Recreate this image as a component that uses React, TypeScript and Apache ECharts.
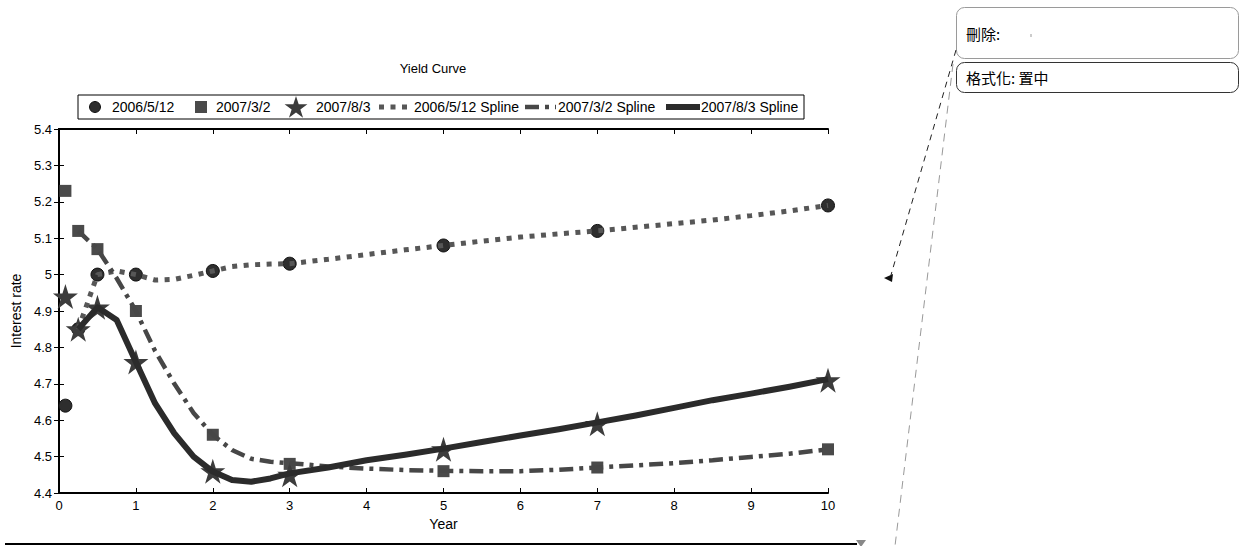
import React, { useEffect, useRef } from "react";
import * as echarts from "echarts";

// ---- data ----
const years = [1 / 12, 0.25, 0.5, 1, 2, 3, 5, 7, 10];
const rates20060512 = [4.64, 4.85, 5.0, 5.0, 5.01, 5.03, 5.08, 5.12, 5.19];
const rates20070302 = [5.23, 5.12, 5.07, 4.9, 4.56, 4.48, 4.46, 4.47, 4.52];
const rates20070803 = [4.94, 4.85, 4.91, 4.76, 4.46, 4.45, 4.52, 4.59, 4.71];

const splineYears = [0.25, 0.5, 0.75, 1, 1.25, 1.5, 1.75, 2, 2.25, 2.5, 2.75, 3, 3.5, 4, 4.5, 5, 5.5, 6, 6.5, 7, 7.5, 8, 8.5, 9, 9.5, 10];
const spline20060512 = [4.85, 5.0, 5.01, 5.0, 4.985, 4.987, 4.998, 5.01, 5.022, 5.027, 5.029, 5.03, 5.042, 5.055, 5.068, 5.08, 5.092, 5.103, 5.112, 5.12, 5.13, 5.14, 5.15, 5.162, 5.175, 5.19];
const spline20070302 = [5.12, 5.07, 4.99, 4.9, 4.79, 4.7, 4.62, 4.56, 4.518, 4.494, 4.486, 4.482, 4.473, 4.467, 4.463, 4.461, 4.46, 4.46, 4.464, 4.47, 4.476, 4.482, 4.49, 4.499, 4.508, 4.52];
const spline20070803 = [4.85, 4.91, 4.875, 4.76, 4.646, 4.564, 4.5, 4.459, 4.436, 4.431, 4.44, 4.454, 4.47, 4.49, 4.505, 4.522, 4.54, 4.558, 4.575, 4.594, 4.613, 4.634, 4.655, 4.673, 4.692, 4.713];

const legendNames = ["2006/5/12", "2007/3/2", "2007/8/3", "2006/5/12 Spline", "2007/3/2 Spline", "2007/8/3 Spline"];
const titleText = "Yield Curve";
const xName = "Year";
const yName = "Interest rate";
const noteDelete = "刪除:";
const noteFormat = "格式化: 置中";

const FONT = "'Liberation Sans', Arial, Helvetica, sans-serif";
const CJK = "'Noto Sans CJK TC', 'Noto Sans CJK SC', sans-serif";
const STAR =
  "path://M0,-10L2.245,-3.09L9.511,-3.09L3.633,1.18L5.878,8.09L0,3.82L-5.878,8.09L-3.633,1.18L-9.511,-3.09L-2.245,-3.09Z";

const C_CIRCLE = "#2e2e2e";
const C_SQUARE = "#4a4a4a";
const C_STAR = "#3c3c3c";
const C_DOT = "#575757";
const C_DASHDOT = "#474747";
const C_SOLID = "#2b2b2b";
const DOT_DASH = [5, 6.5];
const DASHDOT_DASH = [14, 6, 4, 6];

function pairs(xs: number[], ys: number[]) {
  return xs.map((x, i) => [x, ys[i]]);
}

function starPoints(cx: number, cy: number, r: number) {
  const pts: number[][] = [];
  for (let i = 0; i < 10; i++) {
    const a = -Math.PI / 2 + (i * Math.PI) / 5;
    const rr = i % 2 === 0 ? r : r * 0.382;
    pts.push([cx + rr * Math.cos(a), cy + rr * Math.sin(a)]);
  }
  return pts;
}

export default function App() {
  const ref = useRef<HTMLDivElement>(null);

  useEffect(() => {
    if (!ref.current) return;
    const chart = echarts.init(ref.current, undefined, { renderer: "svg" });

    const GL = 59, GT = 129, GR = 828, GB = 493;
    const tickFmt = (v: number) => String(parseFloat(Number(v).toFixed(1)));

    const legendY = 107;
    const legendGraphics: any[] = [
      { type: "rect", shape: { x: 78, y: 95, width: 726, height: 24 }, style: { fill: "#fff", stroke: "#000", lineWidth: 1 }, z: 10 },
      { type: "circle", shape: { cx: 95, cy: legendY, r: 5.5 }, style: { fill: C_CIRCLE, stroke: "#111", lineWidth: 1 }, z: 11 },
      { type: "rect", shape: { x: 195, y: legendY - 6, width: 12, height: 12 }, style: { fill: C_SQUARE }, z: 11 },
      { type: "polygon", shape: { points: starPoints(296, legendY + 1, 12) }, style: { fill: C_STAR }, z: 11 },
      { type: "line", shape: { x1: 379, y1: legendY, x2: 412, y2: legendY }, style: { stroke: C_DOT, lineWidth: 5, lineDash: DOT_DASH }, z: 11 },
      { type: "line", shape: { x1: 525, y1: legendY, x2: 556, y2: legendY }, style: { stroke: C_DASHDOT, lineWidth: 4.5, lineDash: DASHDOT_DASH }, z: 11 },
      { type: "line", shape: { x1: 666, y1: legendY, x2: 700, y2: legendY }, style: { stroke: C_SOLID, lineWidth: 6 }, z: 11 },
    ];
    const legendTextX = [112, 216, 316, 414, 558, 701];
    legendNames.forEach((n, i) => {
      legendGraphics.push({
        type: "text",
        x: legendTextX[i],
        y: legendY,
        style: { text: n, font: `14px ${FONT}`, fill: "#000", verticalAlign: "middle", align: "left" },
        z: 11,
      });
    });

    const notes: any[] = [
      { type: "rect", shape: { x: 956.5, y: 7.5, width: 282, height: 51, r: 8 }, style: { fill: "#fff", stroke: "#9a9a9a", lineWidth: 1 } },
      { type: "rect", shape: { x: 956.5, y: 62.5, width: 282, height: 30, r: 8 }, style: { fill: "#fff", stroke: "#333", lineWidth: 1 } },
      { type: "text", x: 966, y: 33, style: { text: noteDelete, font: `15px ${CJK}`, fill: "#000", verticalAlign: "middle" } },
      { type: "rect", shape: { x: 1030, y: 34, width: 2, height: 3 }, style: { fill: "#ccc" } },
      { type: "text", x: 966, y: 77, style: { text: noteFormat, font: `15px ${CJK}`, fill: "#000", verticalAlign: "middle" } },
      { type: "line", shape: { x1: 956, y1: 50, x2: 891, y2: 275 }, style: { stroke: "#222", lineWidth: 1, lineDash: [6, 5] } },
      { type: "polygon", shape: { points: [[884, 278], [893, 274], [892, 282]] }, style: { fill: "#111" } },
      { type: "line", shape: { x1: 953, y1: 64, x2: 895, y2: 546 }, style: { stroke: "#999", lineWidth: 1, lineDash: [8, 6] } },
      { type: "line", shape: { x1: 5, y1: 544, x2: 857, y2: 544 }, style: { stroke: "#000", lineWidth: 2 } },
      { type: "polygon", shape: { points: [[856, 540], [866, 540], [861, 547]] }, style: { fill: "#888" } },
      { type: "text", x: 433, y: 68, style: { text: titleText, font: `13px ${FONT}`, fill: "#000", align: "center", verticalAlign: "middle" } },
    ];

    const axisCommon = {
      axisLine: { show: true, lineStyle: { color: "#000", width: 2 } },
      axisTick: { show: true, inside: true, length: 5, lineStyle: { color: "#000", width: 1 } },
      splitLine: { show: false },
    };

    chart.setOption({
      animation: false,
      backgroundColor: "#fff",
      grid: { left: GL, top: GT, width: GR - GL, height: GB - GT, containLabel: false },
      xAxis: [
        {
          type: "value", min: 0, max: 10, interval: 1, position: "bottom",
          ...axisCommon,
          axisLabel: { show: true, color: "#000", fontSize: 13, fontFamily: FONT, margin: 6 },
          name: xName, nameLocation: "middle", nameGap: 23,
          nameTextStyle: { color: "#000", fontSize: 14, fontFamily: FONT },
        },
        {
          type: "value", min: 0, max: 10, interval: 1, position: "top",
          ...axisCommon, axisLabel: { show: false },
        },
      ],
      yAxis: [
        {
          type: "value", min: 4.4, max: 5.4, interval: 0.1, position: "left",
          ...axisCommon,
          axisLabel: { show: true, color: "#000", fontSize: 13, fontFamily: FONT, margin: 7, formatter: tickFmt },
          name: yName, nameLocation: "middle", nameGap: 32,
          nameTextStyle: { color: "#000", fontSize: 14, fontFamily: FONT },
        },
        {
          type: "value", min: 4.4, max: 5.4, interval: 0.1, position: "right",
          ...axisCommon, axisLabel: { show: false },
        },
      ],
      series: [
        {
          name: legendNames[0], type: "scatter", data: pairs(years, rates20060512),
          symbol: "circle", symbolSize: 13, z: 2, silent: true,
          itemStyle: { color: C_CIRCLE, borderColor: "#111", borderWidth: 1, opacity: 1 },
        },
        {
          name: legendNames[1], type: "scatter", data: pairs(years, rates20070302),
          symbol: "rect", symbolSize: 12, z: 2, silent: true,
          itemStyle: { color: C_SQUARE, opacity: 1 },
        },
        {
          name: legendNames[2], type: "scatter", data: pairs(years, rates20070803),
          symbol: STAR, symbolSize: 25, z: 2, silent: true,
          itemStyle: { color: C_STAR, opacity: 1 },
        },
        {
          name: legendNames[3], type: "line", data: pairs(splineYears, spline20060512),
          symbol: "none", z: 3, silent: true,
          lineStyle: { color: C_DOT, width: 5, type: DOT_DASH, cap: "butt" },
        },
        {
          name: legendNames[4], type: "line", data: pairs(splineYears, spline20070302),
          symbol: "none", z: 3, silent: true,
          lineStyle: { color: C_DASHDOT, width: 4.5, type: DASHDOT_DASH, cap: "butt" },
        },
        {
          name: legendNames[5], type: "line", data: pairs(splineYears, spline20070803),
          symbol: "none", z: 3, silent: true,
          lineStyle: { color: C_SOLID, width: 6, join: "round" },
        },
      ],
      graphic: [...notes, ...legendGraphics],
    });

    return () => chart.dispose();
  }, []);

  return (
    <div
      ref={ref}
      style={{ position: "absolute", left: 0, top: 0, width: 1246, height: 546, background: "#fff" }}
    />
  );
}
